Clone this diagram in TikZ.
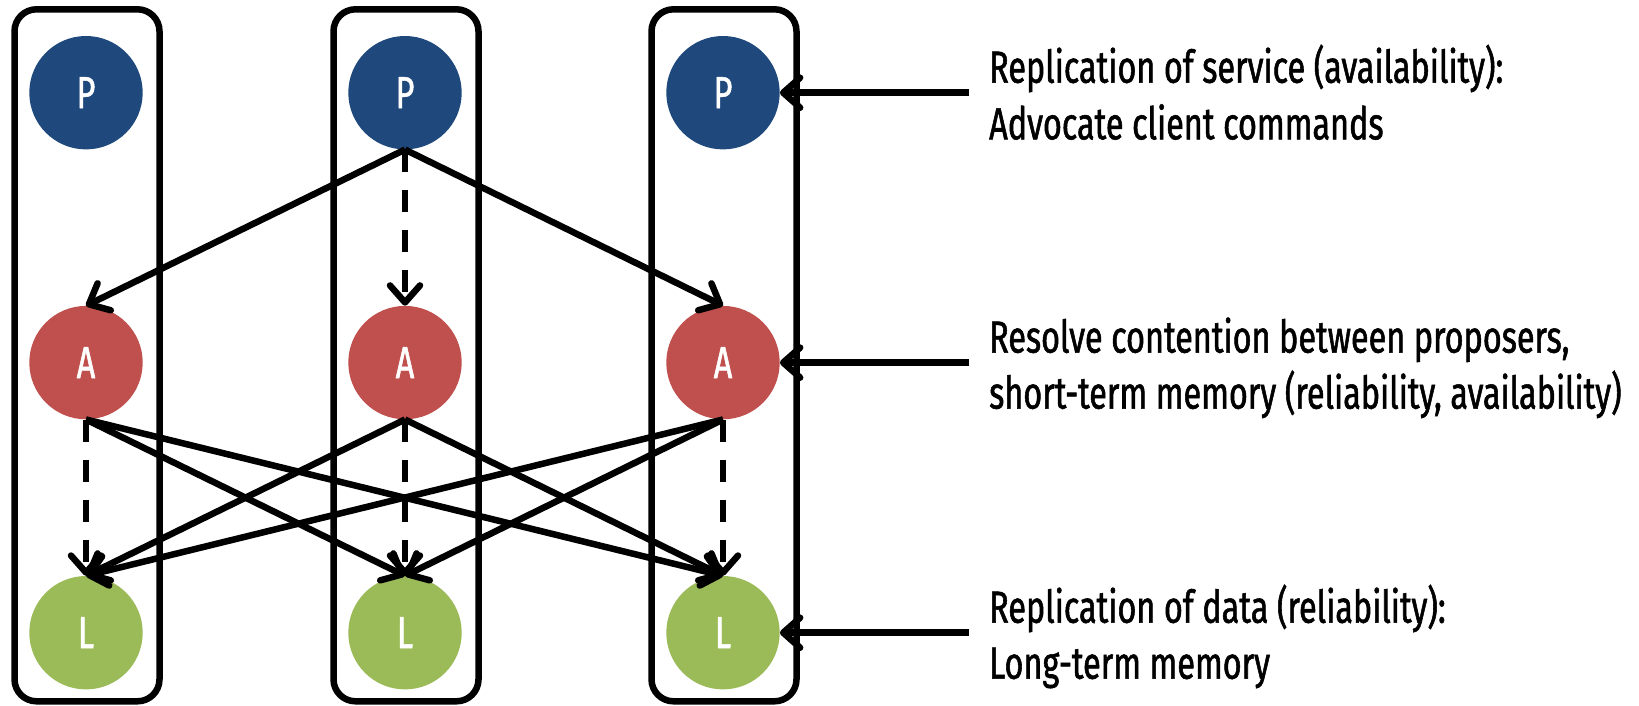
\documentclass[tikz,border=0pt]{standalone}
\usepackage{fontspec}
\setmainfont{Fira Sans}[FakeStretch=0.72, FakeBold=1.2]
\usetikzlibrary{arrows.meta}
\definecolor{propblue}{HTML}{1F497D}
\definecolor{accred}{HTML}{C0504D}
\definecolor{learngreen}{HTML}{9BBB59}
\begin{document}
\begin{tikzpicture}[x=1pt,y=-1pt,
  txt/.style={font=\fontsize{45}{56}\selectfont},
  role/.style={circle, minimum size=113.4pt, inner sep=0pt, text=white, txt},
  proposer/.style={role, fill=propblue},
  acceptor/.style={role, fill=accred},
  learner/.style={role, fill=learngreen},
  column/.style={draw, line width=6.5pt, rounded corners=22pt, minimum width=145pt, minimum height=692pt, inner sep=0pt},
  link/.style={line width=6.5pt, -{Straight Barb[length=17pt,width=30pt,round]}},
  samecol/.style={link, dash pattern=on 22pt off 18pt},
  note/.style={txt, anchor=base west, inner sep=0pt}
]
\useasboundingbox (0,0) rectangle (1639,706);

% replica columns
\node[column] (col1) at (87,355.3) {};
\node[column] (col2) at (406,355.3) {};
\node[column] (col3) at (724,355.3) {};

% proposers, acceptors, learners
\node[proposer] (P1) at (86,92.7) {P};
\node[proposer] (P2) at (405,92.7) {P};
\node[proposer] (P3) at (723,92.7) {P};
\node[acceptor] (A1) at (86,362.6) {A};
\node[acceptor] (A2) at (405,362.6) {A};
\node[acceptor] (A3) at (723,362.6) {A};
\node[learner] (L1) at (86,632.7) {L};
\node[learner] (L2) at (405,632.7) {L};
\node[learner] (L3) at (723,632.7) {L};

% proposer to acceptors
\draw[link] (P2.south) -- (A1.north);
\draw[samecol] (P2.south) -- (A2.north);
\draw[link] (P2.south) -- (A3.north);

% acceptors to learners
\foreach \a in {1,2,3}{
  \foreach \l in {1,2,3}{
    \ifnum\a=\l
      \draw[samecol] (A\a.south) -- (L\l.north);
    \else
      \draw[link] (A\a.south) -- (L\l.north);
    \fi
  }
}

% annotations
\coordinate (n1) at (969,92.7);
\coordinate (n2) at (969,362.6);
\coordinate (n3) at (969,632.7);
\draw[link] (n1) -- (P3.east);
\draw[link] (n2) -- (A3.east);
\draw[link] (n3) -- (L3.east);

\node[note] (t1a) at (989,82.7) {Replication of service (availability):};
\node[note] (t1b) at (989,139.3) {Advocate client commands};
\node[note] (t2a) at (989,352.6) {Resolve contention between proposers,};
\node[note] (t2b) at (989,408.6) {short-term memory (reliability, availability)};
\node[note] (t3a) at (989,622.7) {Replication of data (reliability):};
\node[note] (t3b) at (989,678.7) {Long-term memory};
\end{tikzpicture}
\end{document}
